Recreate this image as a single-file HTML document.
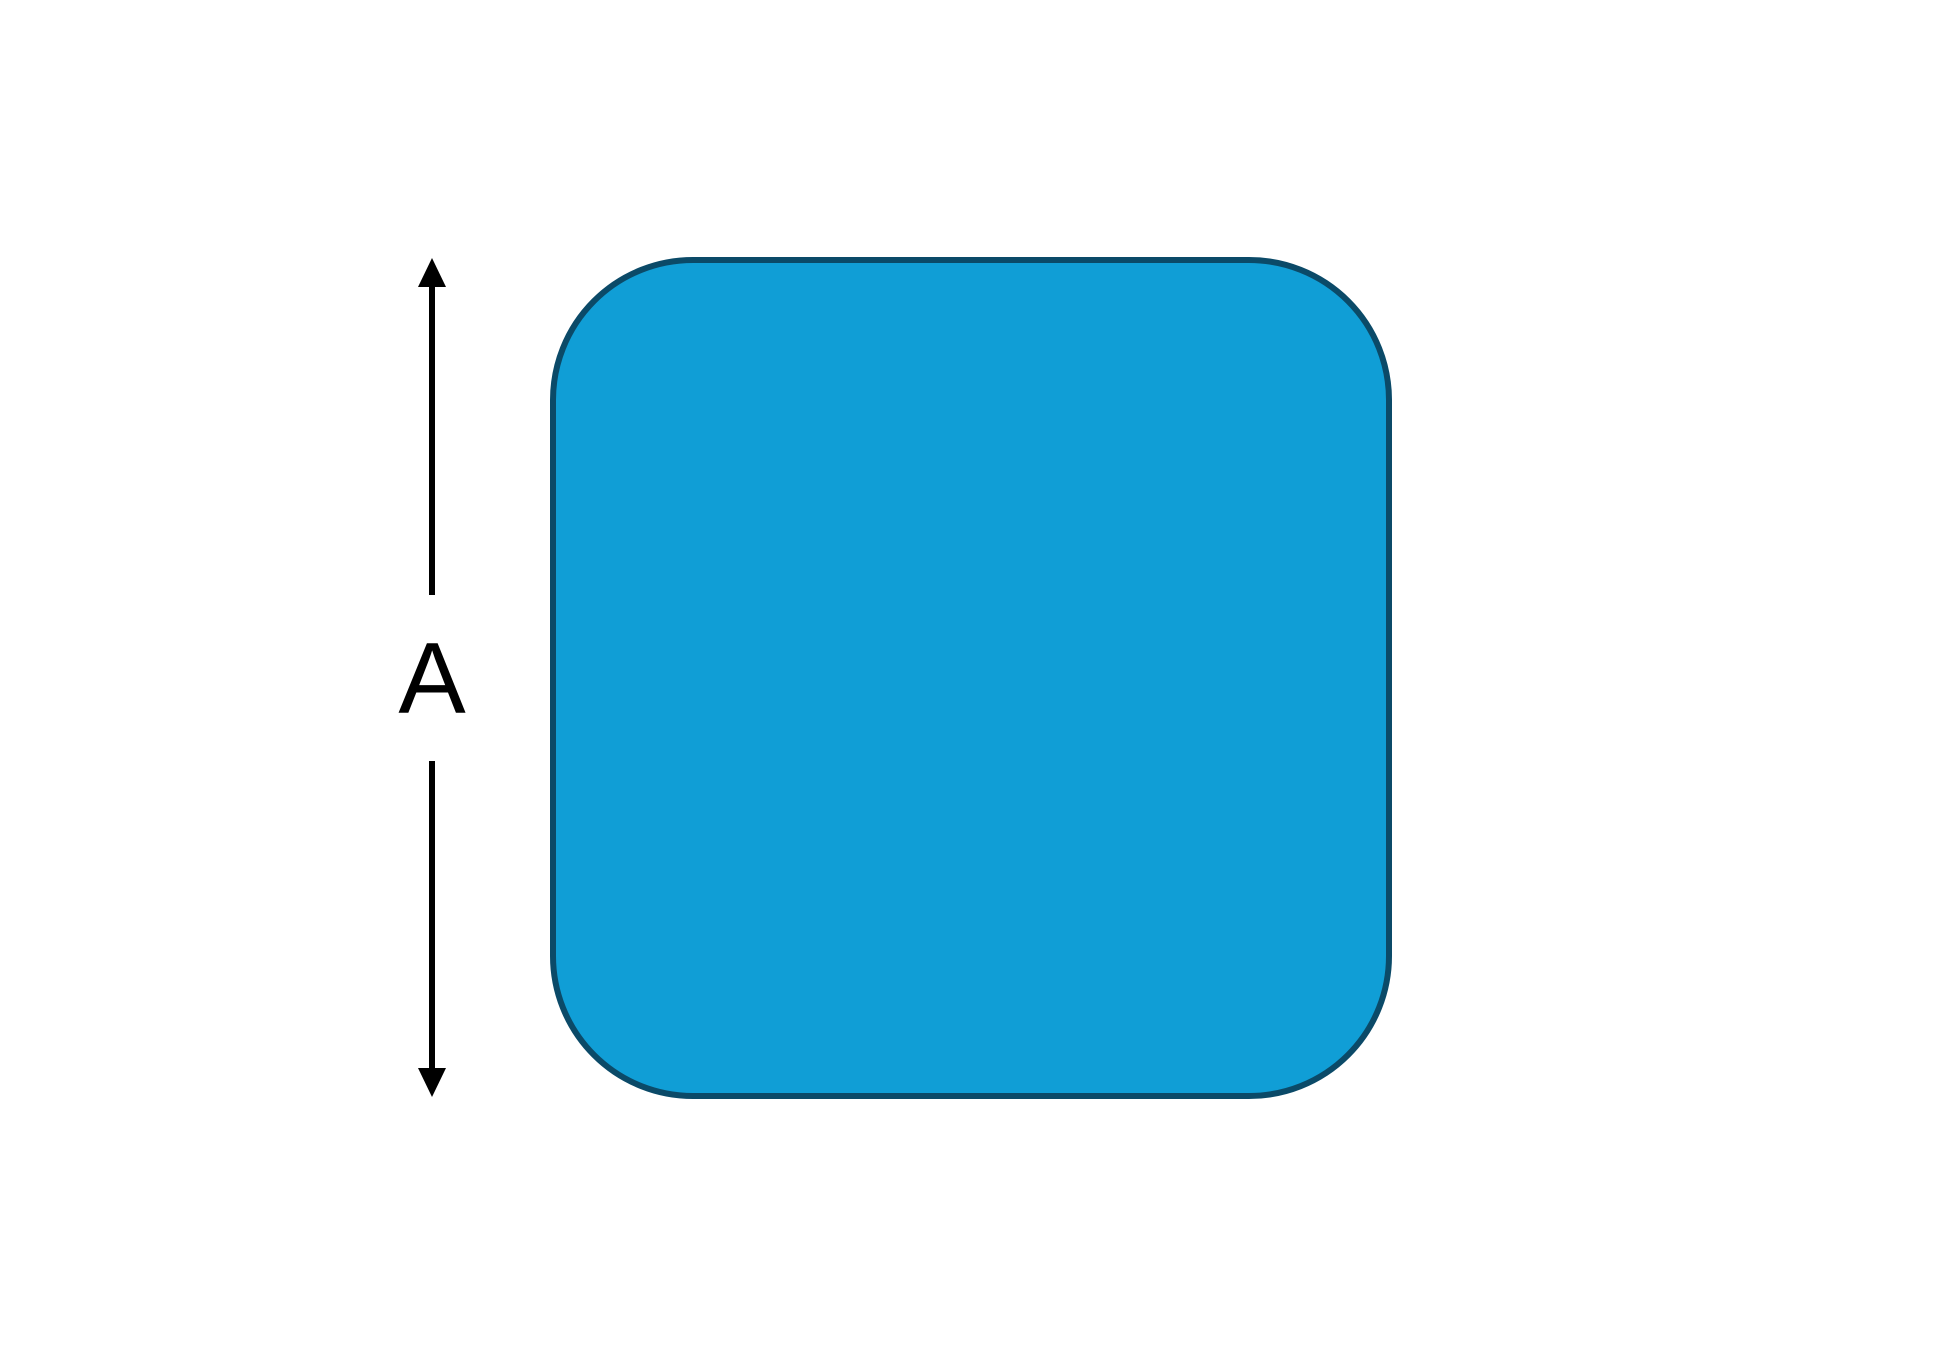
<!DOCTYPE html>
<html><head><meta charset="utf-8"><style>
html,body{margin:0;padding:0;background:#fff;width:1937px;height:1358px;overflow:hidden}
</style></head><body>
<svg width="1937" height="1358" viewBox="0 0 1937 1358" xmlns="http://www.w3.org/2000/svg">
  <rect x="553" y="260" width="836" height="836" rx="140" ry="140" fill="#109ed6" stroke="#0b4a68" stroke-width="6"/>
  <g fill="#000" stroke="none">
    <rect x="429" y="284" width="6" height="311"/>
    <polygon points="432,258 446,287 418,287"/>
    <rect x="429" y="761" width="6" height="311"/>
    <polygon points="432,1097 446,1068 418,1068"/>
  </g>
  <text x="432" y="713" text-anchor="middle" font-family="'Liberation Sans', sans-serif" font-size="101" fill="#000">A</text>
</svg>
</body></html>
